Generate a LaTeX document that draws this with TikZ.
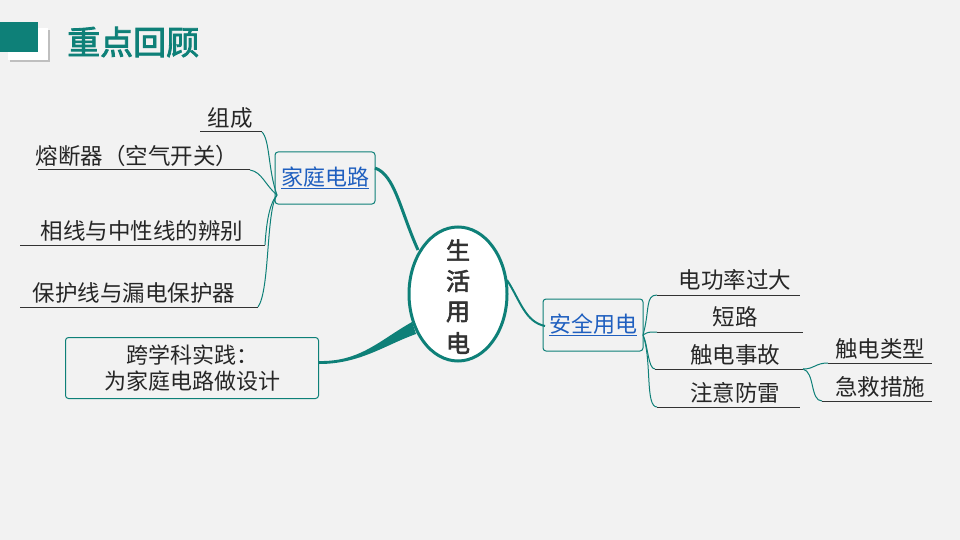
\documentclass[tikz,border=0pt]{standalone}
\usepackage{fontspec}
\setmainfont{Noto Sans CJK SC}[AutoFakeBold=2.5]
\usetikzlibrary{shapes.geometric}
\definecolor{teal1}{HTML}{0E8078}
\definecolor{bg}{HTML}{F2F2F2}
\definecolor{lnk}{HTML}{1F5FBF}
\begin{document}
\begin{tikzpicture}[x=1pt,y=-1pt,
 leaf/.style={font=\fontsize{22.5}{24}\selectfont,text=black!85,inner sep=0pt},
 box/.style={draw=teal1,line width=1pt,rounded corners=3pt,fill=bg},
 br/.style={draw=teal1,line width=1pt},
 ul/.style={draw=black!80,line width=1pt},
 ctr/.style={font=\fontsize{24}{26}\selectfont\bfseries,text=black!80,inner sep=0pt},
 main/.style={draw=teal1,line width=3pt}]
\fill[bg] (0,0) rectangle (960,540);
\useasboundingbox (0,0) rectangle (960,540);
% header
\fill[black!25] (10,30) rectangle (50,62);
\fill[white] (8,28) rectangle (48,60);
\fill[teal1] (0,22) rectangle (38,52);
\node[font=\fontsize{33}{35}\selectfont\bfseries,text=teal1,anchor=west,inner sep=0pt] (title) at (67,42) {重点回顾};
% centre
\node[ellipse,draw=teal1,line width=3pt,fill=white,minimum width=98,minimum height=134,inner sep=0pt] (c) at (458,294) {};
\node[ctr] (c1) at (458,250) {生};
\node[ctr] (c2) at (458,281) {活};
\node[ctr] (c3) at (458,312) {用};
\node[ctr] (c4) at (458,343) {电};
% boxes
\node[box,minimum width=100,minimum height=52] (jt) at (325,178) {};
\node[font=\fontsize{22}{24}\selectfont,text=lnk] (jtt) at (325,178) {\underline{家庭电路}};
\node[box,minimum width=100,minimum height=52] (aq) at (593,325) {};
\node[font=\fontsize{22}{24}\selectfont,text=lnk] (aqt) at (593,325) {\underline{安全用电}};
\node[box,minimum width=253,minimum height=61,align=center,font=\fontsize{22}{26}\selectfont,text=black!85] (kx) at (192,368) {跨学科实践：\\为家庭电路做设计};
% main connectors
\draw[main] (375,168) .. controls (395,175) and (400,210) .. (418,250);
\draw[teal1,line width=2pt] (507,280) .. controls (520,300) and (525,322) .. (545,326);
\fill[teal1] (319,361) .. controls (360,362) and (380,340) .. (412,322) -- (416,334) .. controls (385,345) and (360,364) .. (319,364) -- cycle;
% left leaves
\coordinate (jo) at (277,195);
\node[leaf] (l1) at (230,118) {组成};
\node[leaf] (l2) at (137,156) {熔断器（空气开关）};
\node[leaf] (l3) at (142,231) {相线与中性线的辨别};
\node[leaf] (l4) at (134,293) {保护线与漏电保护器};
\draw[ul] (200,132) coordinate (u1) -- (262,132) coordinate (u1e);
\draw[ul] (38,170) -- (250,170) coordinate (u2e);
\draw[ul] (20,245) -- (265,245) coordinate (u3e);
\draw[ul] (20,307) -- (258,307) coordinate (u4e);
\draw[br] (jo) .. controls (268,170) and (270,140) .. (u1e);
\draw[br] (jo) .. controls (265,185) and (262,172) .. (u2e);
\draw[br] (jo) .. controls (268,205) and (266,230) .. (u3e);
\draw[br] (jo) .. controls (266,210) and (270,290) .. (u4e);
% right leaves
\coordinate (ao) at (643,335);
\node[leaf] (r1) at (735,280) {电功率过大};
\node[leaf] (r2) at (735,317) {短路};
\node[leaf] (r3) at (735,355) {触电事故};
\node[leaf] (r4) at (735,393) {注意防雷};
\draw[ul] (657,295) coordinate (v1) -- (800,295);
\draw[ul] (657,332) coordinate (v2) -- (803,332);
\draw[ul] (655,369) coordinate (v3) -- (803,369) coordinate (v3e);
\draw[ul] (657,407) coordinate (v4) -- (800,407);
\draw[br] (ao) .. controls (650,310) and (645,295) .. (v1);
\draw[br] (ao) .. controls (648,332) .. (v2);
\draw[br] (ao) .. controls (648,345) and (648,369) .. (v3);
\draw[br] (ao) .. controls (652,360) and (645,407) .. (v4);
\node[leaf] (s1) at (880,349) {触电类型};
\node[leaf] (s2) at (880,387) {急救措施};
\draw[ul] (828,363) coordinate (w1) -- (932,363);
\draw[ul] (822,401) coordinate (w2) -- (932,401);
\draw[br] (v3e) .. controls (815,369) and (815,363) .. (w1);
\draw[br] (v3e) .. controls (815,372) and (810,401) .. (w2);
\end{tikzpicture}
\end{document}
